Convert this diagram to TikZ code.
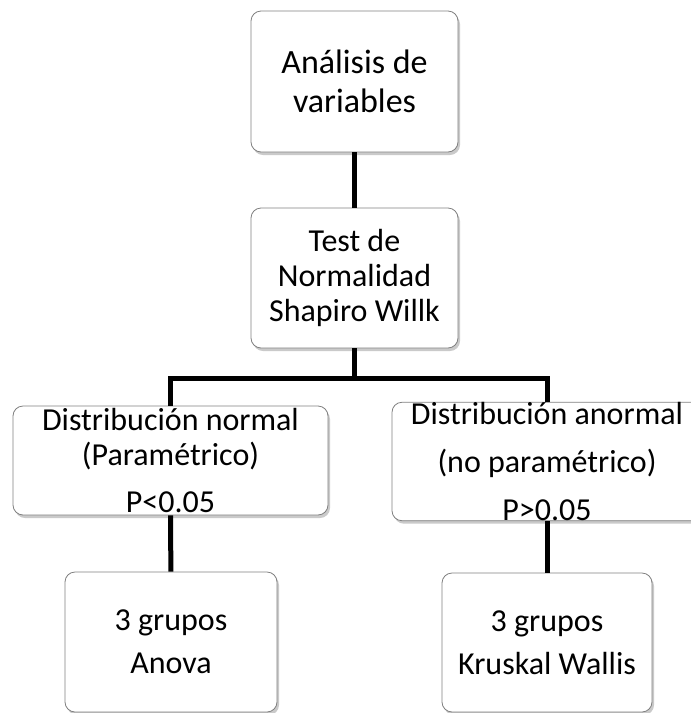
\documentclass[tikz,border=0pt]{standalone}
\usepackage{fontspec}
\setmainfont{Carlito}
\usepackage{tikz}
\usetikzlibrary{positioning,shadows}
\tikzset{
  stagebox/.style={draw=black!50, line width=0.8pt, fill=white, rounded corners=10pt, align=center, inner sep=0pt,
    drop shadow={shadow xshift=2pt, shadow yshift=-3pt, opacity=0.35, fill=black!60}},
  stagelink/.style={-, draw=black, line width=5pt},
  stagetext/.style={font=\fontsize{32}{#1}\selectfont}
}

\begin{document}
\begin{tikzpicture}[x=1pt, y=-1pt]
  \useasboundingbox (0,0) rectangle (691,713);

  \node[stagebox, minimum width=207pt, minimum height=141pt, font=\fontsize{34}{39}\selectfont]
    (vars) at (354.5,81.5) {Análisis de\\variables};
  \node[stagebox, stagetext=35, minimum width=207pt, minimum height=140pt]
    (test) at (354.5,278) {Test de\\Normalidad\\Shapiro Willk};

  \node[stagebox, stagetext=35, minimum width=315pt, minimum height=109pt]
    (norm) at (170.5,460.5) {Distribución normal\\(Paramétrico)\\[12pt]P<0.05};
  \node[stagebox, stagetext=48, minimum width=310pt, minimum height=111pt]
    (anorm) at (547,461.5) {Distribución anormal\\(no paramétrico)\\P>0.05};

  \node[stagebox, stagetext=43, minimum width=212pt, minimum height=140pt]
    (anova) at (171,642) {3 grupos\\Anova};
  \node[stagebox, stagetext=43, minimum width=210pt, minimum height=139pt]
    (kruskal) at (547,642.5) {3 grupos\\Kruskal Wallis};

  \coordinate (split) at (test.south |- 0,378);

  \draw[stagelink] (vars) -- (test);
  \draw[stagelink] (test) -- (split);
  \draw[stagelink] (split) -| (norm.north);
  \draw[stagelink] (split) -| (anorm.north);
  \draw[stagelink] (norm) -- (anova);
  \draw[stagelink] (anorm) -- (kruskal);
\end{tikzpicture}
\end{document}
